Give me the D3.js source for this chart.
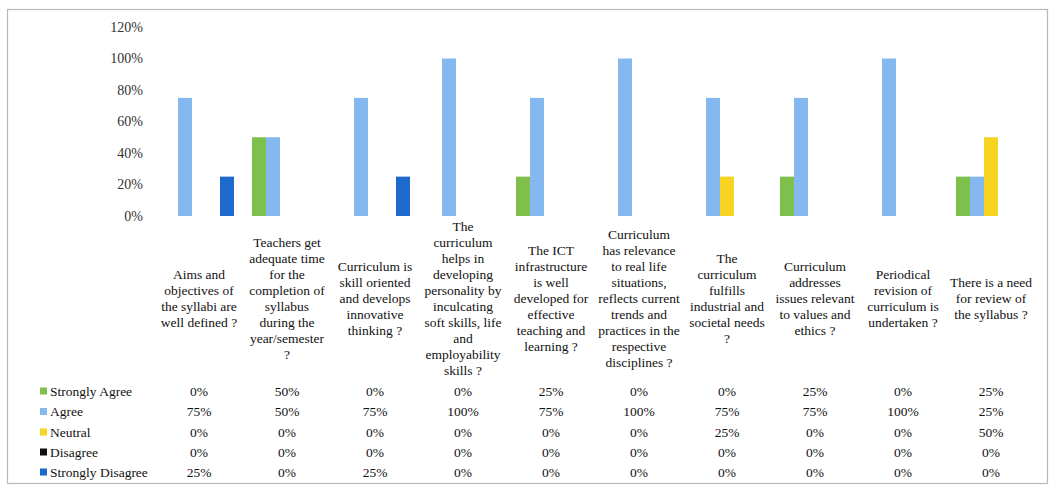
<!DOCTYPE html>
<html><head><meta charset="utf-8">
<script src="https://cdn.jsdelivr.net/npm/d3@7"></script>
<style>body{margin:0;background:#fff}svg{display:block}</style>
</head><body><svg id="c" width="1050" height="487"></svg>
<script>
const categories = [
  "Aims and\nobjectives of\nthe syllabi are\nwell defined ?",
  "Teachers get\nadequate time\nfor the\ncompletion of\nsyllabus\nduring the\nyear/semester\n?",
  "Curriculum is\nskill oriented\nand develops\ninnovative\nthinking ?",
  "The\ncurriculum\nhelps in\ndeveloping\npersonality by\ninculcating\nsoft skills, life\nand\nemployability\nskills ?",
  "The ICT\ninfrastructure\nis well\ndeveloped for\neffective\nteaching and\nlearning ?",
  "Curriculum\nhas relevance\nto real life\nsituations,\nreflects current\ntrends and\npractices in the\nrespective\ndisciplines ?",
  "The\ncurriculum\nfulfills\nindustrial and\nsocietal needs\n?",
  "Curriculum\naddresses\nissues relevant\nto values and\nethics ?",
  "Periodical\nrevision of\ncurriculum is\nundertaken ?",
  "There is a need\nfor review of\nthe syllabus ?"
];
const seriesNames = ["Strongly Agree","Agree","Neutral","Disagree","Strongly Disagree"];
const seriesColors = ["#7fbf4c","#84b8ef","#f7d422","#111111","#1d69cc"];
const stronglyAgree    = [0,0.50,0,0,0.25,0,0,0.25,0,0.25];
const agree            = [0.75,0.50,0.75,1.00,0.75,1.00,0.75,0.75,1.00,0.25];
const neutral          = [0,0,0,0,0,0,0.25,0,0,0.50];
const disagree         = [0,0,0,0,0,0,0,0,0,0];
const stronglyDisagree = [0.25,0,0.25,0,0,0,0,0,0,0];
const seriesValues = [stronglyAgree, agree, neutral, disagree, stronglyDisagree];
const yTicks = [0,0.2,0.4,0.6,0.8,1.0,1.2];
const FONT = "'Liberation Serif', 'Times New Roman', serif";
const FS = "13.5px";

const svg = d3.select("#c");
// outer chart border
svg.append("rect").attr("x",7.5).attr("y",9.5).attr("width",1040).attr("height",474)
  .attr("fill","none").attr("stroke","#b8b8b8").attr("stroke-width",1.2);

const x0 = d3.scaleBand().domain(d3.range(categories.length)).range([155,1035]);
const x1 = d3.scaleBand().domain(d3.range(seriesNames.length)).range([9, x0.bandwidth()-9]);
const y = d3.scaleLinear().domain([0,1.2]).range([216,27]);

// y axis (labels only)
const yAxis = d3.axisLeft(y).tickValues(yTicks).tickFormat(d3.format(".0%")).tickSize(0).tickPadding(0);
const yg = svg.append("g").attr("transform","translate(143,0)").call(yAxis);
yg.select(".domain").remove();
yg.selectAll("text").style("font-family",FONT).style("font-size","14px").attr("fill","#333");

// bars
seriesValues.forEach((vals,si)=>{
  svg.append("g").selectAll("rect").data(vals).join("rect")
    .attr("x",(d,i)=>x0(i)+x1(si))
    .attr("width",x1.bandwidth())
    .attr("y",d=>y(d))
    .attr("height",d=>y(0)-y(d))
    .attr("fill",seriesColors[si]);
});

// category labels
const lh = 16, labelCenter = 298;
categories.forEach((c,i)=>{
  const lines = c.split("\n");
  const t = svg.append("text").attr("text-anchor","middle").attr("fill","#111")
    .style("font-family",FONT).style("font-size",FS);
  const cx = x0(i)+x0.bandwidth()/2;
  const top = labelCenter - (lines.length-1)*lh/2;
  lines.forEach((l,k)=>{
    t.append("tspan").attr("x",cx).attr("y",top+k*lh).attr("dy","0.35em").text(l);
  });
});

// data table
const rowY = [391,411.5,432,452,472];
const fmt = d3.format(".0%");
seriesNames.forEach((s,si)=>{
  svg.append("rect").attr("x",40).attr("y",rowY[si]-3.5).attr("width",7).attr("height",7).attr("fill",seriesColors[si]);
  svg.append("text").attr("x",50).attr("y",rowY[si]).attr("dy","0.35em").attr("fill","#111")
    .style("font-family",FONT).style("font-size",FS).text(s);
  svg.append("g").selectAll("text").data(seriesValues[si]).join("text")
    .attr("x",(d,i)=>x0(i)+x0.bandwidth()/2)
    .attr("y",rowY[si]).attr("dy","0.35em").attr("text-anchor","middle").attr("fill","#111")
    .style("font-family",FONT).style("font-size",FS).text(d=>fmt(d));
});
</script></body></html>
